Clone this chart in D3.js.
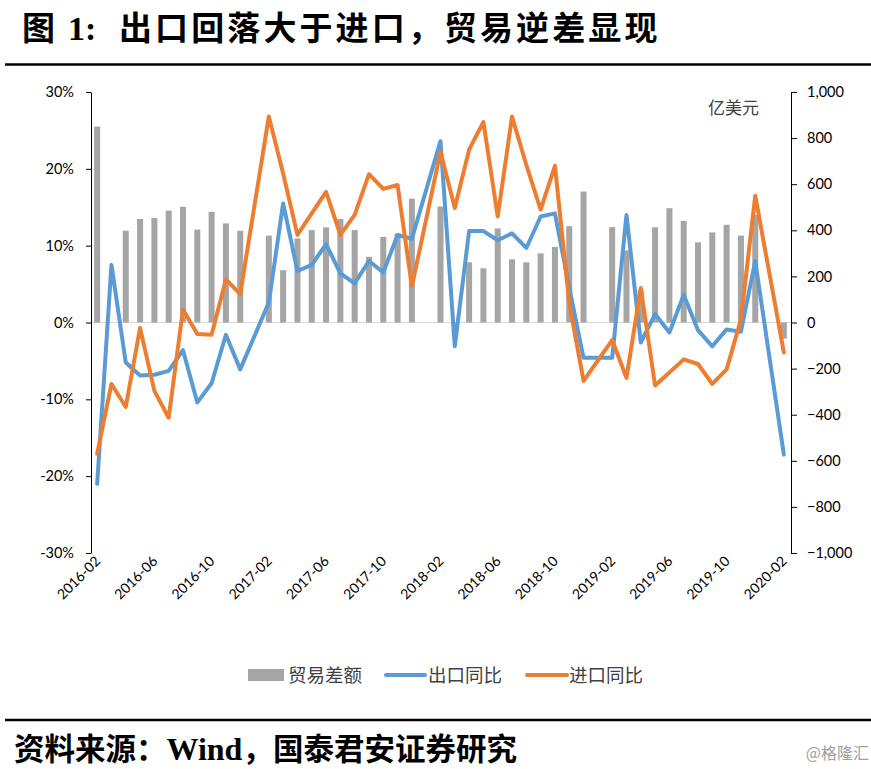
<!DOCTYPE html>
<html><head><meta charset="utf-8">
<script src="https://cdn.jsdelivr.net/npm/d3@7"></script>
<style>body{margin:0;background:#fff} svg{display:block}</style>
</head><body><svg id="c" width="871" height="769"></svg>
<script>
const months = ["2016-02","2016-03","2016-04","2016-05","2016-06","2016-07","2016-08","2016-09","2016-10","2016-11","2016-12",
"2017-01","2017-02","2017-03","2017-04","2017-05","2017-06","2017-07","2017-08","2017-09","2017-10","2017-11","2017-12",
"2018-01","2018-02","2018-03","2018-04","2018-05","2018-06","2018-07","2018-08","2018-09","2018-10","2018-11","2018-12",
"2019-01","2019-02","2019-03","2019-04","2019-05","2019-06","2019-07","2019-08","2019-09","2019-10","2019-11","2019-12",
"2020-01","2020-02"];
// 贸易差额 (亿美元)
const tradeBalance = [850,null,398,449,453,485,502,403,480,430,398,
null,377,227,365,401,413,449,401,285,371,385,537,
null,503,-50,261,235,408,274,261,300,328,418,568,
null,414,313,138,413,496,441,348,391,424,377,468,
null,-70];
// 出口同比 (%)
const exportYoY = [-21.0,7.5,-5.2,-6.9,-6.8,-6.3,-3.6,-10.4,-7.9,-1.6,-6.1,
null,2.6,15.5,6.7,7.5,10.2,6.4,5.1,8.0,6.5,11.4,10.9,
null,23.6,-3.1,11.9,11.9,10.7,11.6,9.7,13.8,14.2,4.5,-4.6,
null,-4.6,14.0,-2.6,1.1,-1.3,3.6,-1.0,-3.1,-0.9,-1.2,8.0,
null,-17.2];
// 进口同比 (%)
const importYoY = [-17.1,-8.0,-11.0,-0.7,-8.9,-12.4,1.7,-1.5,-1.6,5.6,3.7,
null,26.8,19.4,11.4,14.2,17.0,11.4,14.0,19.3,17.4,17.9,4.7,
null,22.2,14.9,22.5,26.1,13.8,26.8,20.5,14.7,20.4,2.5,-7.6,
null,-2.3,-7.2,4.5,-8.2,-6.5,-4.8,-5.4,-8.0,-6.1,0.4,16.5,
null,-3.9];
const xTickLabels = ["2016-02","2016-06","2016-10","2017-02","2017-06","2017-10","2018-02","2018-06","2018-10","2019-02","2019-06","2019-10","2020-02"];
const leftTicks = [-30,-20,-10,0,10,20,30];
const rightTicks = [-1000,-800,-600,-400,-200,0,200,400,600,800,1000];
const seriesNames = ["贸易差额","出口同比","进口同比"];
const colors = {bar:"#a5a5a5", exp:"#5b9bd5", imp:"#ed7d31"};

const svg = d3.select("#c");
svg.append("rect").attr("width",871).attr("height",769).attr("fill","#fff");

const CJK = "'Noto Sans CJK SC', sans-serif";
const NUM = "Lato, 'Open Sans', sans-serif";

// title
const title = svg.append("text").attr("y",40).attr("font-family",CJK).attr("font-weight",700).attr("font-size",33).attr("fill","#000");
title.append("tspan").attr("x",22).text("图");
title.append("tspan").attr("x",68).attr("font-family","'Liberation Serif', serif").attr("font-size",34).text("1:");
title.append("tspan").attr("x",119).attr("letter-spacing",3.1).text("出口回落大于进口，贸易逆差显现");

svg.append("line").attr("x1",5).attr("x2",871).attr("y1",64.5).attr("y2",64.5).attr("stroke","#000").attr("stroke-width",2.5);
svg.append("line").attr("x1",5).attr("x2",871).attr("y1",720).attr("y2",720).attr("stroke","#000").attr("stroke-width",2.5);

// footer
const foot = svg.append("text").attr("x",14).attr("y",760).attr("font-family",CJK).attr("font-weight",700).attr("font-size",30.5).attr("fill","#000");
foot.append("tspan").text("资料来源：");
foot.append("tspan").attr("font-family","'Liberation Serif', serif").attr("font-size",32).text("Wind");
foot.append("tspan").text("，国泰君安证券研究");
svg.append("text").attr("x",869).attr("y",759).attr("text-anchor","end").attr("font-family",CJK).attr("font-size",16).attr("fill","#a0a0a0").text("@格隆汇");

// scales
const x = d3.scaleBand().domain(months).range([90,791]).paddingInner(0.58).paddingOuter(0.29);
const yL = d3.scaleLinear().domain([-30,30]).range([553,92]);
const yR = d3.scaleLinear().domain([-1000,1000]).range([553,92]);
const cx = m => x(m) + x.bandwidth()/2;

// zero line
svg.append("line").attr("x1",91).attr("x2",791).attr("y1",yL(0)).attr("y2",yL(0)).attr("stroke","#d9d9d9").attr("stroke-width",1);

// bars
const barData = months.map((m,i)=>({m, v:tradeBalance[i]})).filter(d=>d.v!==null);
svg.append("g").selectAll("rect").data(barData).join("rect")
  .attr("x", d=>x(d.m)).attr("width", x.bandwidth())
  .attr("y", d=>Math.min(yR(d.v), yR(0))).attr("height", d=>Math.abs(yR(d.v)-yR(0)))
  .attr("fill", colors.bar);

// lines
const series = arr => months.map((m,i)=>({m, v:arr[i]})).filter(d=>d.v!==null);
const line = d3.line().x(d=>cx(d.m)).y(d=>yL(d.v));
[[exportYoY, colors.exp],[importYoY, colors.imp]].forEach(([arr,col])=>{
  svg.append("path").datum(series(arr)).attr("d",line).attr("fill","none")
    .attr("stroke",col).attr("stroke-width",4).attr("stroke-linejoin","round").attr("stroke-linecap","round");
});

// axes
const axL = d3.axisLeft(yL).tickValues(leftTicks).tickSize(5).tickSizeOuter(0).tickPadding(12).tickFormat(d=>d+"%");
const gL = svg.append("g").attr("transform","translate(91,0)").call(axL);
const axR = d3.axisRight(yR).tickValues(rightTicks).tickSize(6).tickSizeOuter(0).tickPadding(10).tickFormat(d3.format(","));
const gR = svg.append("g").attr("transform","translate(791,0)").call(axR);
[gL,gR].forEach(g=>{
  g.select(".domain").attr("stroke","#000");
  g.selectAll(".tick line").attr("stroke","#000");
  g.selectAll("text").attr("font-family",NUM).attr("font-size",14.5).attr("fill","#000");
});

// x labels
svg.append("g").selectAll("text").data(xTickLabels).join("text")
  .attr("transform", d=>`translate(${cx(d)+4},562) rotate(-45)`)
  .attr("text-anchor","end").attr("font-family",NUM).attr("font-size",14).attr("fill","#000").text(d=>d);

// unit
svg.append("text").attr("x",708).attr("y",114).attr("font-family",CJK).attr("font-size",17).attr("fill","#404040").text("亿美元");

// legend
const lg = svg.append("g").attr("font-family",CJK).attr("font-size",18.5).attr("fill","#404040");
lg.append("rect").attr("x",248).attr("y",669).attr("width",36).attr("height",12).attr("fill",colors.bar);
lg.append("text").attr("x",288).attr("y",682).text(seriesNames[0]);
lg.append("line").attr("x1",386).attr("x2",425).attr("y1",675).attr("y2",675).attr("stroke",colors.exp).attr("stroke-width",4).attr("stroke-linecap","round");
lg.append("text").attr("x",428).attr("y",682).text(seriesNames[1]);
lg.append("line").attr("x1",527).attr("x2",567).attr("y1",675).attr("y2",675).attr("stroke",colors.imp).attr("stroke-width",4).attr("stroke-linecap","round");
lg.append("text").attr("x",569).attr("y",682).text(seriesNames[2]);
</script></body></html>
